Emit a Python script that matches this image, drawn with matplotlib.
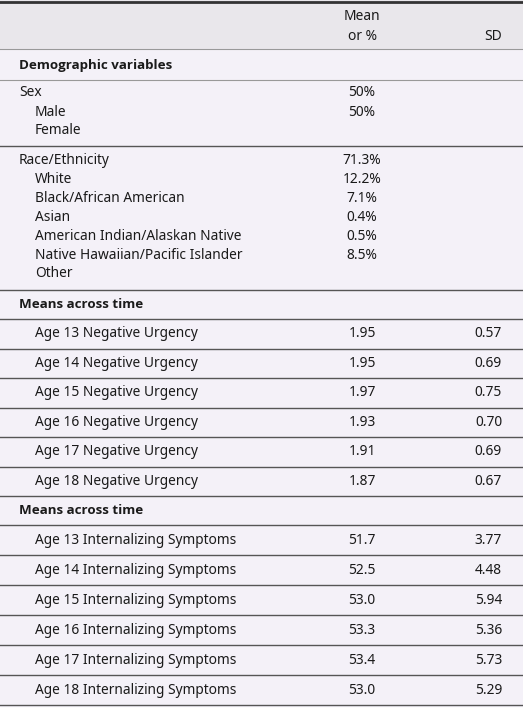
import matplotlib
matplotlib.use("Agg")
import matplotlib.pyplot as plt
from matplotlib.patches import Rectangle

plt.rcParams['font.family'] = ['Noto Sans', 'DejaVu Sans']

sex_labels = ["Sex", "Male", "Female"]
sex_values = ["50%", "50%", ""]
race_labels = ["Race/Ethnicity", "White", "Black/African American", "Asian",
               "American Indian/Alaskan Native", "Native Hawaiian/Pacific Islander", "Other"]
race_values = ["71.3%", "12.2%", "7.1%", "0.4%", "0.5%", "8.5%", ""]
nu_labels = [f"Age {a} Negative Urgency" for a in range(13, 19)]
nu_means = [1.95, 1.95, 1.97, 1.93, 1.91, 1.87]
nu_sds = [0.57, 0.69, 0.75, 0.70, 0.69, 0.67]
is_labels = [f"Age {a} Internalizing Symptoms" for a in range(13, 19)]
is_means = [51.7, 52.5, 53.0, 53.3, 53.4, 53.0]
is_sds = [3.77, 4.48, 5.94, 5.36, 5.73, 5.29]

W, H = 523, 710
fig = plt.figure(figsize=(W/100, H/100), dpi=100)
ax = fig.add_axes([0, 0, 1, 1])
ax.set_xlim(0, W); ax.set_ylim(H, 0); ax.axis('off')

fs = 9.9
tc = '#1a1a1a'
XL, XI, XM, XS = 19, 35, 362, 502
LC = '#555555'
BOLD = dict(fontweight='bold', family=['Open Sans', 'DejaVu Sans'], fontsize=9.6)

ax.add_patch(Rectangle((0, 0), W, 49, color='#e9e7eb', zorder=0))
ax.add_patch(Rectangle((0, 49), W, 706-49, color='#f4f1f8', zorder=0))

def hline(y, lw=1.0, c=LC):
    ax.plot([0, W], [y, y], color=c, lw=lw, zorder=2)

hline(1.5, 2.0, '#333333')
ax.text(XM, 16, "Mean", ha='center', va='center', fontsize=fs, color=tc)
ax.text(XM, 36, "or %", ha='center', va='center', fontsize=fs, color=tc)
ax.text(XS, 36, "SD", ha='right', va='center', fontsize=fs, color=tc)
hline(49, 0.8, '#999999')
ax.text(XL, 65, "Demographic variables", ha='left', va='center', color=tc, **BOLD)
hline(80, 0.8, '#999999')

y = 93
for i, (l, v) in enumerate(zip(sex_labels, sex_values)):
    ax.text(XL if i == 0 else XI, y, l, ha='left', va='center', fontsize=fs, color=tc)
    ax.text(XM, y, v, ha='center', va='center', fontsize=fs, color=tc)
    y += 19
hline(146)
y = 161
for i, (l, v) in enumerate(zip(race_labels, race_values)):
    ax.text(XL if i == 0 else XI, y, l, ha='left', va='center', fontsize=fs, color=tc)
    ax.text(XM, y, v, ha='center', va='center', fontsize=fs, color=tc)
    y += 18.8
hline(290)

def block(top, labels, means, sds, fmt, step):
    ax.text(XL, top + 14, "Means across time", ha='left', va='center', color=tc, **BOLD)
    hline(top + 29)
    y0 = top + 29
    for i, (l, m, s) in enumerate(zip(labels, means, sds)):
        yc = y0 + step * i + step / 2
        ax.text(XI, yc, l, ha='left', va='center', fontsize=fs, color=tc)
        ax.text(XM, yc, fmt.format(m), ha='center', va='center', fontsize=fs, color=tc)
        ax.text(XS, yc, f"{s:.2f}", ha='right', va='center', fontsize=fs, color=tc)
        hline(y0 + step * (i + 1))

block(290, nu_labels, nu_means, nu_sds, "{:.2f}", 29.5)
block(496, is_labels, is_means, is_sds, "{:.1f}", 30)

fig.savefig("out.png", dpi=100)
